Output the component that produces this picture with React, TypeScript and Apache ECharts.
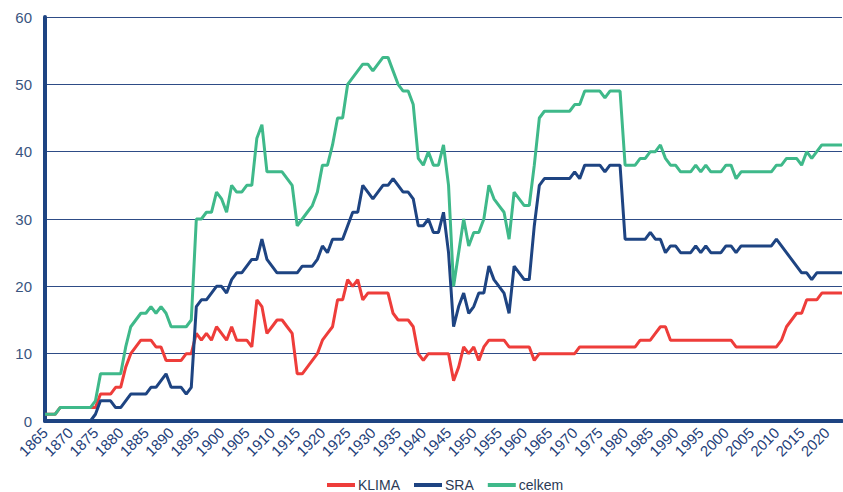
import React, { useEffect, useRef } from "react";
import * as echarts from "echarts";

const years: string[] = [];
for (let y = 1865; y <= 2023; y++) years.push(String(y));

const klima: number[] = [
  1, 1, 1, 2, 2, 2, 2, 2, 2, 2, // 1865-1874
  2, 4, 4, 4, 5, 5, 8, 10, 11, 12, // 1875-1884
  12, 12, 11, 11, 9, 9, 9, 9, 10, 10, // 1885-1894
  13, 12, 13, 12, 14, 13, 12, 14, 12, 12, // 1895-1904
  12, 11, 18, 17, 13, 14, 15, 15, 14, 13, // 1905-1914
  7, 7, 8, 9, 10, 12, 13, 14, 18, 18, // 1915-1924
  21, 20, 21, 18, 19, 19, 19, 19, 19, 16, // 1925-1934
  15, 15, 15, 14, 10, 9, 10, 10, 10, 10, // 1935-1944
  10, 6, 8, 11, 10, 11, 9, 11, 12, 12, // 1945-1954
  12, 12, 11, 11, 11, 11, 11, 9, 10, 10, // 1955-1964
  10, 10, 10, 10, 10, 10, 11, 11, 11, 11, // 1965-1974
  11, 11, 11, 11, 11, 11, 11, 11, 12, 12, // 1975-1984
  12, 13, 14, 14, 12, 12, 12, 12, 12, 12, // 1985-1994
  12, 12, 12, 12, 12, 12, 12, 11, 11, 11, // 1995-2004
  11, 11, 11, 11, 11, 11, 12, 14, 15, 16, // 2005-2014
  16, 18, 18, 18, 19, 19, 19, 19, 19, // 2015-2023
];

const sra: number[] = [
  0, 0, 0, 0, 0, 0, 0, 0, 0, 0, // 1865-1874
  1, 3, 3, 3, 2, 2, 3, 4, 4, 4, // 1875-1884
  4, 5, 5, 6, 7, 5, 5, 5, 4, 5, // 1885-1894
  17, 18, 18, 19, 20, 20, 19, 21, 22, 22, // 1895-1904
  23, 24, 24, 27, 24, 23, 22, 22, 22, 22, // 1905-1914
  22, 23, 23, 23, 24, 26, 25, 27, 27, 27, // 1915-1924
  29, 31, 31, 35, 34, 33, 34, 35, 35, 36, // 1925-1934
  35, 34, 34, 33, 29, 29, 30, 28, 28, 31, // 1935-1944
  25, 14, 17, 19, 16, 17, 19, 19, 23, 21, // 1945-1954
  20, 19, 16, 23, 22, 21, 21, 29, 35, 36, // 1955-1964
  36, 36, 36, 36, 36, 37, 36, 38, 38, 38, // 1965-1974
  38, 37, 38, 38, 38, 27, 27, 27, 27, 27, // 1975-1984
  28, 27, 27, 25, 26, 26, 25, 25, 25, 26, // 1985-1994
  25, 26, 25, 25, 25, 26, 26, 25, 26, 26, // 1995-2004
  26, 26, 26, 26, 26, 27, 26, 25, 24, 23, // 2005-2014
  22, 22, 21, 22, 22, 22, 22, 22, 22, // 2015-2023
];

const celkem: number[] = [
  1, 1, 1, 2, 2, 2, 2, 2, 2, 2, // 1865-1874
  3, 7, 7, 7, 7, 7, 11, 14, 15, 16, // 1875-1884
  16, 17, 16, 17, 16, 14, 14, 14, 14, 15, // 1885-1894
  30, 30, 31, 31, 34, 33, 31, 35, 34, 34, // 1895-1904
  35, 35, 42, 44, 37, 37, 37, 37, 36, 35, // 1905-1914
  29, 30, 31, 32, 34, 38, 38, 41, 45, 45, // 1915-1924
  50, 51, 52, 53, 53, 52, 53, 54, 54, 52, // 1925-1934
  50, 49, 49, 47, 39, 38, 40, 38, 38, 41, // 1935-1944
  35, 20, 25, 30, 26, 28, 28, 30, 35, 33, // 1945-1954
  32, 31, 27, 34, 33, 32, 32, 38, 45, 46, // 1955-1964
  46, 46, 46, 46, 46, 47, 47, 49, 49, 49, // 1965-1974
  49, 48, 49, 49, 49, 38, 38, 38, 39, 39, // 1975-1984
  40, 40, 41, 39, 38, 38, 37, 37, 37, 38, // 1985-1994
  37, 38, 37, 37, 37, 38, 38, 36, 37, 37, // 1995-2004
  37, 37, 37, 37, 37, 38, 38, 39, 39, 39, // 2005-2014
  38, 40, 39, 40, 41, 41, 41, 41, 41, // 2015-2023
];

const seriesNames = ["KLIMA", "SRA", "celkem"];
const seriesColors = ["#EE3D3A", "#1E4482", "#3FB98A"];

export default function App() {
  const ref = useRef<HTMLDivElement>(null);
  useEffect(() => {
    if (!ref.current) return;
    const chart = echarts.init(ref.current, null, { renderer: "svg" });
    const data = [klima, sra, celkem];
    chart.setOption({
      animation: false,
      textStyle: { fontFamily: "Liberation Sans, Arial, sans-serif" },
      grid: { left: 45, right: 1, top: 17, bottom: 71, containLabel: false },
      legend: {
        top: 473,
        left: 322,
        padding: 5,
        itemWidth: 28,
        itemHeight: 4,
        itemGap: 14,
        icon: "rect",
        textStyle: { fontSize: 14, color: "#2B3A55", padding: [0, 0, 0, -2] },
        data: seriesNames,
      },
      xAxis: {
        type: "category",
        data: years,
        boundaryGap: false,
        axisLine: { show: true, lineStyle: { color: "#1E4482", width: 4 } },
        axisTick: { show: false },
        axisLabel: {
          interval: 4,
          rotate: 45,
          fontSize: 15,
          color: "#1F3F7A",
          margin: 9,
        },
        splitLine: { show: false },
      },
      yAxis: {
        type: "value",
        min: 0,
        max: 60,
        interval: 10,
        axisLine: { show: true, lineStyle: { color: "#1E4482", width: 4 } },
        axisTick: { show: false },
        axisLabel: { fontSize: 15, color: "#3A5580", margin: 13 },
        splitLine: { show: true, lineStyle: { color: "#2E4C86", width: 1 } },
      },
      series: seriesNames.map((name, i) => ({
        name,
        type: "line",
        data: data[i],
        symbol: "none",
        lineStyle: { width: 3, color: seriesColors[i] },
        itemStyle: { color: seriesColors[i] },
      })),
    });
    return () => chart.dispose();
  }, []);
  return (
    <div
      ref={ref}
      style={{ position: "absolute", left: 0, top: 0, width: 843, height: 492, background: "#fff" }}
    />
  );
}
